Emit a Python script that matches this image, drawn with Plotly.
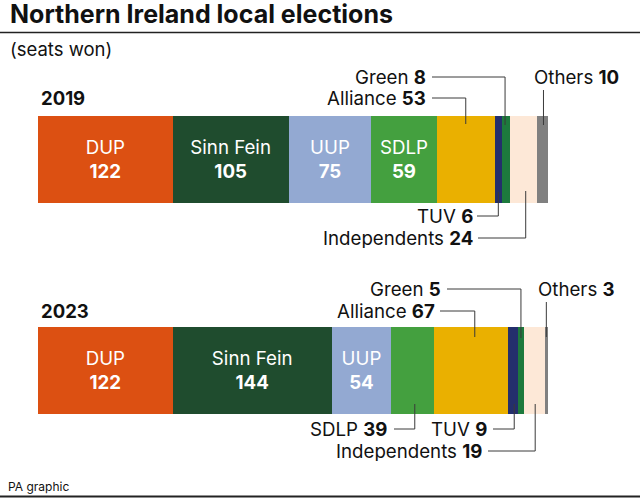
"""Northern Ireland local elections: seats won, 2019 and 2023."""

import plotly.graph_objects as go

WIDTH, HEIGHT = 640, 499

years = ["2019", "2023"]
parties = ["DUP", "Sinn Fein", "UUP", "SDLP", "Alliance", "TUV", "Green", "Independents", "Others"]
seats_2019 = [122, 105, 75, 59, 53, 6, 8, 24, 10]
seats_2023 = [122, 144, 54, 39, 67, 9, 5, 19, 3]
colors = ["#DC5012", "#1F4C2E", "#93A9D2", "#44A03F", "#EAB000", "#242F6C", "#1D7A3D", "#FDE8D7", "#808080"]

# parties named inside the bar, the rest get a leader line
inside_2019 = ["DUP", "Sinn Fein", "UUP", "SDLP"]
inside_2023 = ["DUP", "Sinn Fein", "UUP"]

FONT = "Inter"
INK = "#111111"
LINE = "#3a3a3a"
LABEL_SIZE = 18.7

# bars start at 38px, 462 seats reach 548px
PX_PER_SEAT = (548 - 38) / 462
BAR_PX = 87.5
GAP_PX = 211
BAR1_Y = 159.5

# party, year index, text right edge, label y, line start x, line tip y, x nudge
leaders = [
    ("Green", 0, 427, 77, 432, 125, -1),
    ("Alliance", 0, 427, 98, 432, 124, 0),
    ("TUV", 0, 474, 216, 477, 192, 0),
    ("Independents", 0, 474, 238, 478, 191, 2),
    ("Others", 0, 620, 77, None, 125, 1),
    ("Green", 1, 442, 289, 447, 338, 0),
    ("Alliance", 1, 436, 311, 440, 337, 3.5),
    ("SDLP", 1, 388, 429, 394, 404, 2),
    ("TUV", 1, 488, 429, 493, 404, 1),
    ("Independents", 1, 483, 451, 488, 404, 1),
    ("Others", 1, 616, 289, None, 337, 0),
]

all_seats = [seats_2019, seats_2023]


def centre_seat(year_idx, party):
    vals = all_seats[year_idx]
    i = parties.index(party)
    return sum(vals[:i]) + vals[i] / 2


def py(pixels):
    return 1 - pixels / HEIGHT


def add_text(fig, text, x_px, y_px, size, anchor="left", box_height=None):
    fig.add_annotation(text=text, xref="paper", yref="paper",
                       x=x_px / WIDTH, y=py(y_px), xanchor=anchor, yanchor="middle",
                       showarrow=False, borderpad=0, height=box_height,
                       font=dict(family=FONT, size=size, color=INK))


fig = go.Figure()

for i, party in enumerate(parties):
    texts = []
    for names, vals in ((inside_2019, seats_2019), (inside_2023, seats_2023)):
        texts.append(f"{party}<br><b>{vals[i]}</b>" if party in names else "")
    fig.add_trace(go.Bar(
        y=years, x=[seats_2019[i], seats_2023[i]],
        orientation="h", name=party,
        width=BAR_PX / GAP_PX,
        marker=dict(color=colors[i], line_width=0),
        text=texts, textposition="inside", insidetextanchor="middle",
        textangle=0, constraintext="none",
        insidetextfont=dict(family=FONT, size=LABEL_SIZE, color="white"),
        hoverinfo="skip",
    ))

for party, yr, right, label_y, start_x, tip_y, nudge in leaders:
    val = all_seats[yr][parties.index(party)]
    # rows sit 21px apart, so the boxes are kept shorter than the default line box
    add_text(fig, f"{party} <b>{val}</b>", right, label_y, LABEL_SIZE, anchor="right", box_height=20)
    x_seat = centre_seat(yr, party) + nudge / PX_PER_SEAT
    line = dict(color=LINE, width=1)
    if start_x is None:
        # vertical only, starts just under the label
        fig.add_shape(type="line", xref="x", yref="paper", x0=x_seat, x1=x_seat,
                      y0=py(label_y + 13), y1=py(tip_y), line=line)
        continue
    start_seat = (start_x - 38) / PX_PER_SEAT
    fig.add_shape(type="line", xref="x", yref="paper", x0=start_seat, x1=x_seat,
                  y0=py(label_y), y1=py(label_y), line=line)
    fig.add_shape(type="line", xref="x", yref="paper", x0=x_seat, x1=x_seat,
                  y0=py(label_y), y1=py(tip_y), line=line)

# year headings
for year, y_px in zip(years, [98, 311]):
    add_text(fig, f"<b>{year}</b>", 40, y_px, 18.5)

add_text(fig, "<b>Northern Ireland local elections</b>", 9, 14, 25)
add_text(fig, "(seats won)", 9, 49, 18.5)
add_text(fig, "PA graphic", 7, 486, 12)

# rules under the title and at the foot
for y_px, w in ((32.5, 1.5), (496.5, 2)):
    fig.add_shape(type="line", xref="paper", yref="paper", x0=0, x1=1,
                  y0=py(y_px), y1=py(y_px), line=dict(color="#222222", width=w))

fig.update_layout(
    width=WIDTH, height=HEIGHT,
    margin=dict(l=0, r=0, t=0, b=0),
    barmode="stack", showlegend=False,
    paper_bgcolor="white", plot_bgcolor="white",
    xaxis=dict(visible=False, range=[-38 / PX_PER_SEAT, (WIDTH - 38) / PX_PER_SEAT]),
    yaxis=dict(visible=False, type="category",
               range=[(HEIGHT - BAR1_Y) / GAP_PX, -BAR1_Y / GAP_PX]),
)

fig.write_html("out.html", config={"displayModeBar": False},
               post_script="document.body.style.margin='0';")
